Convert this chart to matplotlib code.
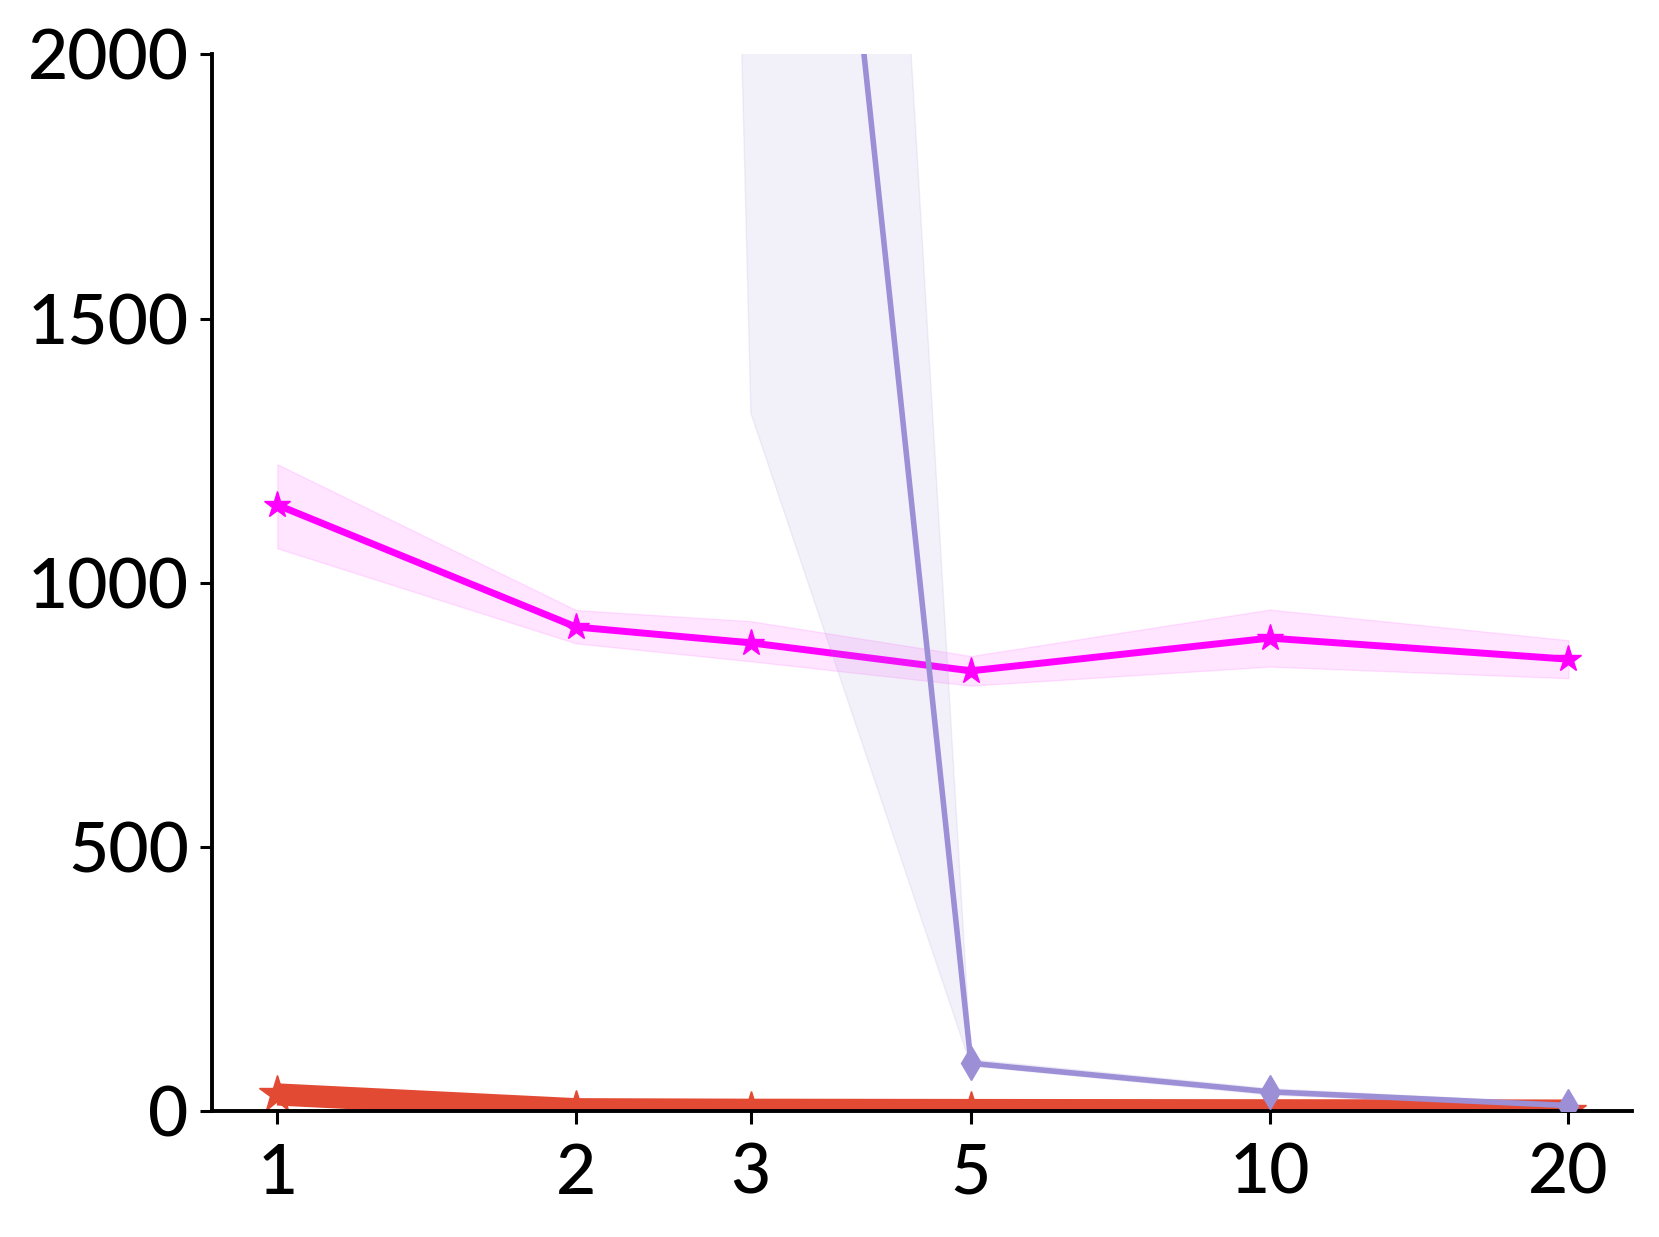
import matplotlib as mpl
import numpy as np

mpl.use('agg')

import matplotlib.pyplot as plt
from matplotlib.ticker import FixedLocator, NullLocator, FixedFormatter

plt.rcParams['font.family'] = ['Lato', 'DejaVu Sans']

x_ticks = [1, 2, 3, 5, 10, 20]
x_labels = ['1', '2', '3', '5', '10', '20']

# red series (near zero)
red_x = [1, 2, 3, 5, 10, 20]
red_mean = [31, 3, 2, 1.5, 1, 0.5]

# magenta series
mag_x = [1, 2, 3, 5, 10, 20]
mag_mean = [1147, 916, 886, 833, 895, 855]
mag_low = [1065, 885, 851, 805, 841, 819]
mag_high = [1224, 948, 927, 861, 949, 891]

# purple series
pur_x = [2, 3, 5, 10, 20]
pur_mean = [21000, 4020, 90, 36, 10]
pur_low = [14500, 1321, 85, 30, 6]
pur_high = [27500, 7100, 97, 42, 14]

red = '#e34a33'
magenta = '#ff00ff'
purple = '#9c8fd6'

fig = plt.figure(figsize=(16.59, 12.37), dpi=100)
ax = fig.add_axes([0.128, 0.102, 0.856, 0.854])

ax.plot(red_x, red_mean, color=red, lw=16, marker='*', markersize=28,
        solid_capstyle='butt', zorder=2)

ax.fill_between(mag_x, mag_low, mag_high, color=magenta, alpha=0.1, zorder=3)
ax.plot(mag_x, mag_mean, color=magenta, lw=5, marker='*', markersize=20, zorder=4)

ax.fill_between(pur_x, pur_low, pur_high, color=purple, alpha=0.13, zorder=5)
ax.plot(pur_x, pur_mean, color=purple, lw=4, marker='d', markersize=17, zorder=6)

ax.set_xscale('log')
ax.set_xlim(0.86, 23.2)
ax.set_ylim(0, 2000)
ax.xaxis.set_major_locator(FixedLocator(x_ticks))
ax.xaxis.set_major_formatter(FixedFormatter(x_labels))
ax.xaxis.set_minor_locator(NullLocator())
ax.set_yticks([0, 500, 1000, 1500, 2000])

for s in ['top', 'right']:
    ax.spines[s].set_visible(False)
for s in ['left', 'bottom']:
    ax.spines[s].set_linewidth(2.8)

ax.tick_params(axis='both', which='major', labelsize=50, length=9, width=2.2, direction='out')
ax.tick_params(axis='y', pad=8)
ax.tick_params(axis='x', pad=14)
for lab in ax.get_xticklabels() + ax.get_yticklabels():
    lab.set_fontweight('medium')

fig.savefig('out.png', dpi=100)
